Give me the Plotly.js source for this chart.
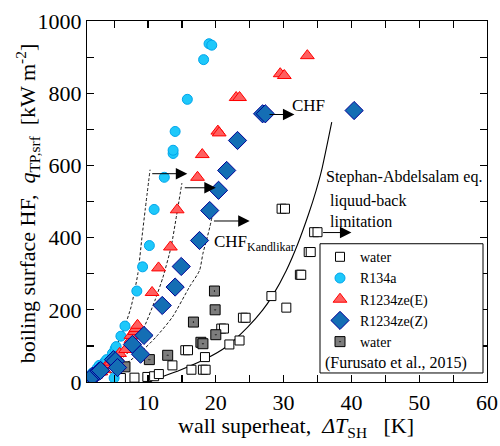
<!DOCTYPE html>
<html>
<head>
<meta charset="utf-8">
<script src="https://cdn.plot.ly/plotly-3.0.1.min.js"></script>
<style>html,body{margin:0;padding:0;background:#fff;}#chart{width:500px;height:446px;}</style>
</head>
<body>
<div id="chart"></div>
<script>
// ---- data ----
const waterX = [6.0, 8.0, 9.9, 10.9, 11.6, 13.6, 15.5, 15.9, 16.4, 18.1, 18.5, 18.4, 20.8, 21.2, 22.0, 23.5, 24.0, 24.4, 28.2, 30.4, 32.4, 32.6, 33.7, 34.0, 34.5, 35.0, 29.7, 30.2];
const waterY = [11, 12, 14, 16, 22, 46, 88, 88, 34, 34, 34, 69, 148, 148, 104, 115, 178, 178, 238, 206, 297, 297, 360, 360, 415, 415, 480, 480];

const furusatoX = [6.6, 10.2, 12.9, 16.7, 17.8, 18.1, 19.8, 19.9, 20.0];
const furusatoY = [42, 62, 74, 166, 110, 106, 252, 200, 131];

const r134aX = [1.4, 1.8, 2.5, 2.8, 3.6, 3.9, 4.75, 5.0, 5.15, 5.3, 6.0, 6.6, 8.35, 9.2, 10.2, 10.9, 12.4, 13.7, 13.7, 14.0, 15.8, 18.2, 19.0, 19.4];
const r134aY = [10, 25, 38, 46, 55, 62, 79, 11, 92, 98, 127, 155, 252, 319, 378, 478, 567, 633, 642, 694, 783, 893, 937, 933];

const r1234eX = [1.2, 1.6, 2.2, 3.0, 3.5, 4.0, 4.5, 5.4, 5.8, 6.7, 7.5, 7.5, 8.0, 8.2, 8.45, 10.6, 11.55, 13.3, 14.3, 17.3, 18.0, 20.3, 20.5, 23.0, 23.5, 29.5, 30.1, 33.5];
const r1234eY = [4, 12, 18, 28, 35, 48, 55, 68, 79, 90, 118, 129, 140, 148, 157, 248, 316, 374, 477, 567, 630, 695, 690, 788, 788, 854, 849, 904];

const r1234zX = [1.4, 1.6, 1.8, 2.8, 3.0, 4.9, 5.2, 5.5, 7.7, 8.9, 9.4, 12.1, 14.0, 14.9, 17.6, 19.1, 20.4, 21.6, 23.2, 26.9, 27.3, 40.4];
const r1234zY = [6, 10, 16, 30, 32, 62, 58, 40, 104, 77, 129, 212, 263, 320, 392, 475, 531, 586, 669, 743, 743, 752];

// CHF (Kandlikar) curves, dashed
const chf1X = [1.2, 2.8, 4.7, 6.2, 7.5, 8.5, 9.1, 9.6, 10.3];
const chf1Y = [0, 32, 79, 135, 208, 300, 400, 480, 588];
const chf2X = [1.5, 3.8, 6.7, 9.2, 11.0, 12.2, 13.4, 14.2, 15.0];
const chf2Y = [5, 32, 74, 143, 225, 290, 374, 460, 551];
const chf3X = [2.3, 5.25, 8.7, 11.2, 13.6, 16.1, 17.6, 18.1, 19.0, 19.6];
const chf3Y = [9, 32, 79, 125, 180, 263, 309, 356, 420, 470];

// Stephan-Abdelsalam eq., solid
const saX = [10.2, 14.6, 18.6, 21.5, 24.7, 26.9, 28.4, 30.4, 32.1, 33.7, 34.8, 35.6, 37.1];
const saY = [2, 32, 65, 97, 152, 199, 240, 309, 383, 466, 531, 586, 720];

// arrows: [tailX, tipX, y]
const arrows = [[10.4, 15.8, 577], [15.2, 20.0, 538], [19.5, 25.0, 446], [27.7, 31.6, 741], [35.6, 40.0, 414]];

const xTickVals = [5, 10, 15, 20, 25, 30, 35, 40, 45, 50, 55, 60];
const xTickText = ['', '10', '', '20', '', '30', '', '40', '', '50', '', '60'];
const yTickVals = [0, 100, 200, 300, 400, 500, 600, 700, 800, 900, 1000];
const yTickText = ['0', '', '200', '', '400', '', '600', '', '800', '', '1000'];

// ---- chart ----
const FONT = 'Liberation Serif, Times New Roman, serif';

function line(x, y, dash, w) {
  return {x: x, y: y, type: 'scatter', mode: 'lines', showlegend: false, hoverinfo: 'skip',
    line: {color: 'black', width: w, dash: dash, shape: 'spline', smoothing: 0.6}};
}

const traces = [
  line(chf1X, chf1Y, '3px,2px', 0.9),
  line(chf2X, chf2Y, '3px,2px', 0.9),
  line(chf3X, chf3Y, '3px,2px', 0.9),
  line(saX, saY, 'solid', 1.1),
  {x: waterX, y: waterY, type: 'scatter', mode: 'markers', name: 'water', legendrank: 1,
    marker: {symbol: 'square', size: 9, color: 'white', line: {color: 'black', width: 1}}},
  {x: furusatoX, y: furusatoY, type: 'scatter', mode: 'markers', name: 'water', legendrank: 5,
    marker: {symbol: 'square-dot', size: 10, color: 'rgb(125,125,125)', line: {color: 'black', width: 1}}},
  {x: r134aX, y: r134aY, type: 'scatter', mode: 'markers', name: 'R134a', legendrank: 2,
    marker: {symbol: 'circle', size: 10, color: 'rgb(30,200,250)', line: {color: 'rgb(0,165,235)', width: 1}}},
  {x: r1234eX, y: r1234eY, type: 'scatter', mode: 'markers', name: 'R1234ze(E)', legendrank: 3,
    marker: {symbol: 'triangle-up', size: 12, color: 'rgb(255,95,95)', line: {color: 'rgb(255,0,0)', width: 1}}},
  {x: r1234zX, y: r1234zY, type: 'scatter', mode: 'markers', name: 'R1234ze(Z)', legendrank: 4,
    marker: {symbol: 'diamond', size: 14, color: 'rgb(20,110,180)', line: {color: 'rgb(0,0,150)', width: 1}}}
];

const annotations = arrows.map(a => ({
  x: a[1], y: a[2], ax: a[0], ay: a[2], xref: 'x', yref: 'y', axref: 'x', ayref: 'y',
  text: '', showarrow: true, arrowhead: 2, arrowsize: 2.3, arrowwidth: 1, arrowcolor: 'black'
}));

annotations.push(
  {x: 30.9, y: 766, xref: 'x', yref: 'y', xanchor: 'left', yanchor: 'middle', text: 'CHF', showarrow: false, font: {family: FONT, size: 17, color: 'black'}},
  {x: 35.9, y: 568, xref: 'x', yref: 'y', xanchor: 'left', yanchor: 'middle', text: 'Stephan-Abdelsalam eq.', showarrow: false, font: {family: FONT, size: 16, color: 'black'}},
  {x: 36.6, y: 473, xref: 'x', yref: 'y', xanchor: 'left', yanchor: 'middle', align: 'left', text: 'liquud-back<br>limitation', showarrow: false, font: {family: FONT, size: 16, color: 'black'}},
  {x: 19.5, y: 385, xref: 'x', yref: 'y', xanchor: 'left', yanchor: 'middle', text: 'CHF<sub>Kandlikar</sub>', showarrow: false, font: {family: FONT, size: 17, color: 'black'}},
  {x: 0.59, y: 0.053, xref: 'paper', yref: 'paper', xanchor: 'left', yanchor: 'middle', text: '(Furusato et al., 2015)', showarrow: false, font: {family: FONT, size: 16, color: 'black'}},
  {x: -0.15, y: 0.495, xref: 'paper', yref: 'paper', xanchor: 'center', yanchor: 'middle', textangle: -90, showarrow: false,
    text: 'boiling surface HF,\u00a0\u00a0<i>q</i><sub>TP,srf</sub>\u00a0\u00a0[kW m<sup>-2</sup>]', font: {family: FONT, size: 22, color: 'black'}},
  {x: 0.5225, y: -0.125, xref: 'paper', yref: 'paper', xanchor: 'center', yanchor: 'middle', showarrow: false,
    text: 'wall superheat,\u00a0\u00a0<i>ΔT</i><sub>SH</sub>\u00a0\u00a0\u00a0[K]', font: {family: FONT, size: 22, color: 'black'}}
);

const axisCommon = {
  showgrid: false, zeroline: false, showline: true, linecolor: 'black', linewidth: 1.2,
  mirror: 'ticks', ticks: 'inside', ticklen: 7, tickwidth: 1.2, tickcolor: 'black',
  tickmode: 'array', tickfont: {family: FONT, size: 22, color: 'black'}
};

const layout = {
  width: 500, height: 446,
  margin: {l: 87, r: 13, t: 21, b: 64},
  paper_bgcolor: 'white', plot_bgcolor: 'white',
  font: {family: FONT, color: 'black'},
  xaxis: Object.assign({}, axisCommon, {
    range: [1, 60], tickvals: xTickVals, ticktext: xTickText
  }),
  yaxis: Object.assign({}, axisCommon, {
    range: [0, 1000], tickvals: yTickVals, ticktext: yTickText
  }),
  legend: {x: 0.5825, y: 0.39, xanchor: 'left', yanchor: 'top', bgcolor: 'rgba(0,0,0,0)', borderwidth: 0,
    font: {family: FONT, size: 14, color: 'black'}, traceorder: 'normal'},
  shapes: [{type: 'rect', xref: 'paper', yref: 'paper', x0: 0.5825, x1: 0.99, y0: 0.025, y1: 0.383,
    line: {color: 'black', width: 1}, fillcolor: 'white', layer: 'above'}],
  annotations: annotations,
  showlegend: true
};

Plotly.newPlot('chart', traces, layout, {staticPlot: true, displayModeBar: false});
</script>
</body>
</html>
